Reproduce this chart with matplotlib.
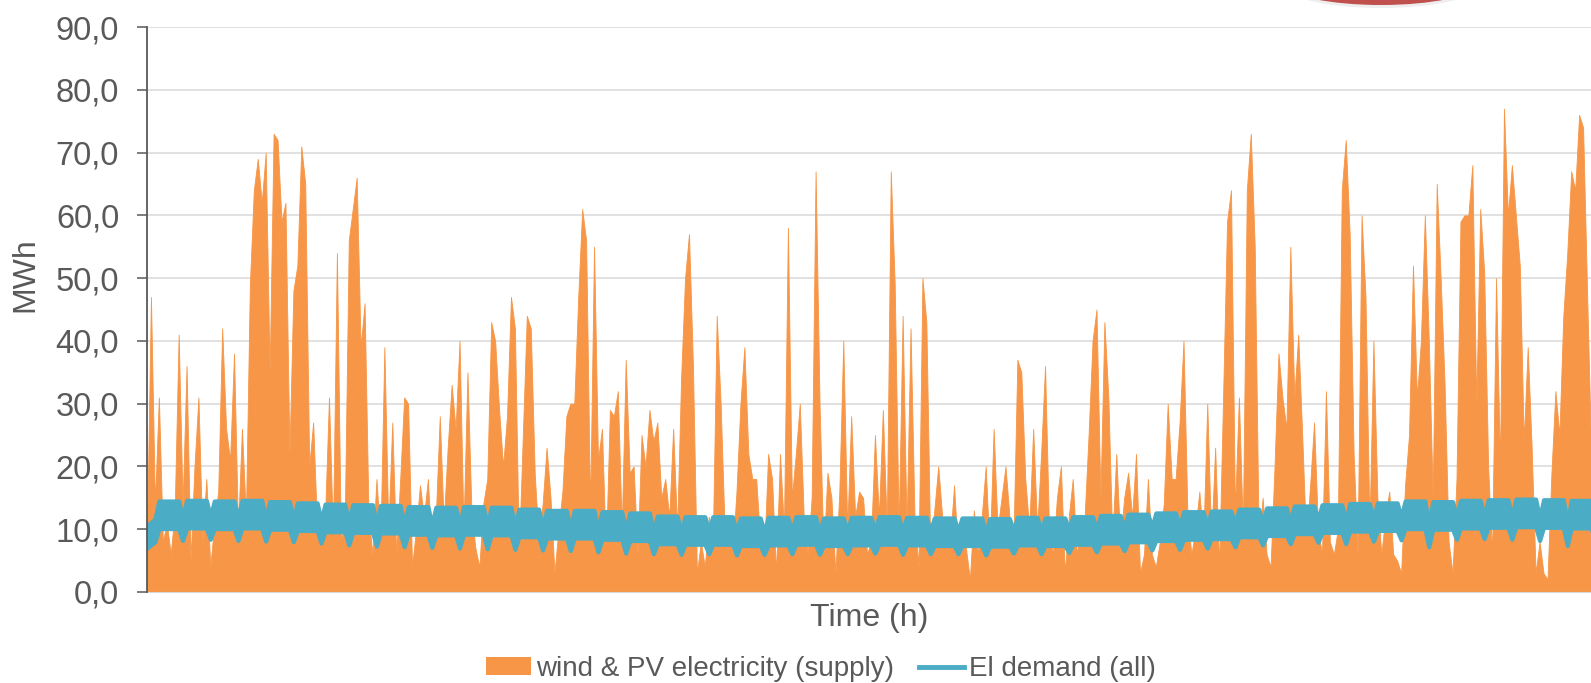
import matplotlib
matplotlib.use('Agg')
from matplotlib import pyplot as plt
from matplotlib.patches import Ellipse, Patch
from matplotlib.lines import Line2D
from matplotlib.ticker import FuncFormatter

plt.rcParams['font.family'] = ['Liberation Sans', 'DejaVu Sans']

# wind & PV supply, one reading per day (MWh)
supply_q1 = [9, 47, 14, 31, 8, 11, 6, 13, 41, 14,
             36, 5, 20, 31, 8, 18, 4, 11, 16, 42,
             26, 21, 38, 10, 26, 12, 49, 64, 69, 62,
             70, 35, 73, 72, 59, 62, 22, 48, 52, 71,
             65, 20, 27, 10, 8, 12, 31, 9, 54, 8,
             12, 56, 61, 66, 39, 46, 12, 6, 18, 8,
             39, 10,
             27, 6, 18, 31, 30, 4, 10, 17, 12, 18,
             6, 12, 28, 11, 23, 33, 26, 40, 10, 35,
             13, 7, 4, 14, 18, 43, 40, 29, 20, 28,
             47, 42, 6, 25, 44, 42, 19, 8, 14, 23,
             15, 3, 10, 16, 28, 30, 30, 47, 61, 56,
             13, 55, 21, 26, 6, 29, 28, 32, 10, 37,
             19, 20]
supply_q2 = [6, 25, 20, 29, 24, 27, 15, 18, 12, 26,
             10, 34, 50, 57, 36, 3, 8, 4, 12, 7,
             44, 30, 10, 12, 6, 16, 30, 39, 22, 18,
             18, 8, 6, 22, 18, 3, 22, 10, 58, 15,
             22, 30, 12, 6, 15, 67, 30, 6, 19, 15,
             3, 16, 40, 10, 28, 12, 16, 15, 6, 8,
             25]
supply_q3 = [12, 29, 10, 67, 49, 10, 44, 10, 42, 12,
             4, 50, 43, 6, 13, 20, 12, 11, 8, 17,
             6, 10, 7, 2, 13, 6, 12, 20, 6, 26,
             10, 15, 20, 12, 8, 37, 35, 18, 10, 26,
             10, 22, 36, 10, 6, 15, 20, 3, 12, 18,
             6, 10, 12, 25, 40, 45, 15, 43, 31, 8,
             22]
supply_q4 = [8, 15, 19, 12, 22, 3, 6, 18, 6, 4,
             8, 14, 30, 18, 18, 27, 40, 12, 6, 10,
             16, 8, 30, 8, 23, 4, 31, 59, 64, 13,
             31, 10, 64, 73, 55, 8, 15, 6, 4, 20,
             38, 31, 26, 55, 31, 41, 25, 8, 17, 27,
             10, 6, 32, 8, 6, 10, 64, 72, 57, 22,
             6, 60,
             47, 10, 40, 15, 6, 12, 16, 6, 5, 3,
             17, 25, 52, 31, 40, 60, 40, 15, 65, 50,
             33, 8, 3, 18, 59, 60, 60, 68, 30, 61,
             51, 20, 6, 50, 20, 77, 60, 68, 60, 52,
             24, 39, 23, 3, 8, 3, 2, 19, 32, 25,
             44, 54, 67, 64, 76, 74, 48, 23]
supply = supply_q1 + supply_q2 + supply_q3 + supply_q4
hours = [d * 24 for d in range(len(supply))]

# El demand, weekly mid levels (MWh) for working days and weekends,
# and the half of the day/night swing
demand_weekday = [12.3, 12.4, 12.3, 12.4, 12.2, 12.0, 11.8, 11.7, 11.6,
                  11.4, 11.3, 11.4, 11.3, 11.0, 10.8, 10.8, 10.6, 10.4,
                  9.9, 9.8, 9.8, 9.6, 9.7, 9.8, 9.6, 9.7, 9.8,
                  9.7, 9.6, 9.6, 9.5, 9.7, 9.6, 9.8, 10.0, 10.2,
                  10.4, 10.6, 10.7, 11.0, 11.2, 11.5, 11.7, 11.9,
                  12.0, 12.3, 12.2, 12.4, 12.5, 12.6, 12.5, 12.4, 12.2]
demand_weekend = [9.8, 10.0, 10.2, 10.0, 9.9, 9.8, 9.6, 9.3, 9.1,
                  9.0, 8.9, 8.8, 8.7, 8.6, 8.5, 8.4, 8.2, 8.0,
                  7.9, 7.8, 7.9, 7.7, 7.8, 7.9, 7.8, 7.9, 8.0,
                  7.8, 7.9, 7.9, 7.7, 8.0, 7.9, 8.1, 8.2, 8.4,
                  8.5, 8.6, 8.8, 9.0, 9.3, 9.5, 9.7, 9.5,
                  9.9, 10.1, 9.0, 10.2, 10.3, 10.2, 10.0, 9.2, 10.0]
demand_newyear = 8.8
swing_weekday = 2.2
swing_weekend = 1.8

# weekend low in the middle of days 1-3 of each week, working-day plateau after it
bx, lo, hi = [0], [demand_newyear - swing_weekend], [demand_newyear + swing_weekend]
for w in range(len(demand_weekday)):
    for d, v, s in ((7 * w + 2.0, demand_weekend[w], swing_weekend),
                    (7 * w + 3.0, demand_weekday[w], swing_weekday),
                    (7 * w + 8.0, demand_weekday[w], swing_weekday)):
        bx.append(d * 24)
        lo.append(v - s)
        hi.append(v + s)

orange = '#F79646'
blue = '#4BACC6'
grey = '#595959'

fig = plt.figure(figsize=(15.91, 6.83), dpi=100)
ax = fig.add_axes([147 / 1591, 91 / 683, 1444 / 1591, 565 / 683])

ax.fill_between(hours, supply, 0, color=orange, lw=0.6, edgecolor=orange, zorder=2)
ax.fill_between(bx, lo, hi, facecolor=blue, edgecolor=blue,
                lw=3, joinstyle='round', zorder=3)

ax.set_xlim(0, 8760)
ax.set_ylim(0, 90)
ax.set_yticks(range(0, 91, 10))
ax.yaxis.set_major_formatter(FuncFormatter(lambda v, p: f'{v:.1f}'.replace('.', ',')))
ax.set_xticks([])
ax.grid(axis='y', color='#D9D9D9', lw=1.1, zorder=0)
ax.set_axisbelow(True)

for s in ('top', 'right'):
    ax.spines[s].set_visible(False)
ax.spines['left'].set_color(grey)
ax.spines['left'].set_linewidth(1.3)
ax.spines['left'].set_zorder(5)
ax.spines['bottom'].set_color('#D9D9D9')
ax.tick_params(axis='y', length=7, width=1.1, color=grey, labelsize=23.5,
               labelcolor=grey, pad=13)

ax.set_ylabel('MWh', fontsize=23, color=grey)
ax.yaxis.label.set_va('center')
ax.yaxis.set_label_coords(-0.0845, 0.561)
ax.set_xlabel('Time (h)', fontsize=23, color=grey)
ax.xaxis.label.set_va('center')
ax.xaxis.set_label_coords(0.5, -0.046)

handles = [Patch(color=orange, lw=0),
           Line2D([], [], color=blue, lw=3.5)]
fig.legend(handles, ['wind & PV electricity (supply)', 'El demand (all)'],
           loc='center', bbox_to_anchor=(821 / 1591, 14 / 683), ncol=2,
           frameon=False, fontsize=20, labelcolor=grey, handlelength=1.62,
           handleheight=0.6, handletextpad=0.18, columnspacing=0.9, borderpad=0)

# edge of the red round shape that is cut off at the top
fig.add_artist(Ellipse((1381 / 1591, 696 / 683), 188 / 1591, 42 / 683,
                       transform=fig.transFigure, color='#D0D0D0', alpha=0.35, lw=0))
fig.add_artist(Ellipse((1381 / 1591, 698 / 683), 186 / 1591, 40 / 683,
                       transform=fig.transFigure, color='#C0504D', lw=0))

fig.savefig('out.png', dpi=100)
